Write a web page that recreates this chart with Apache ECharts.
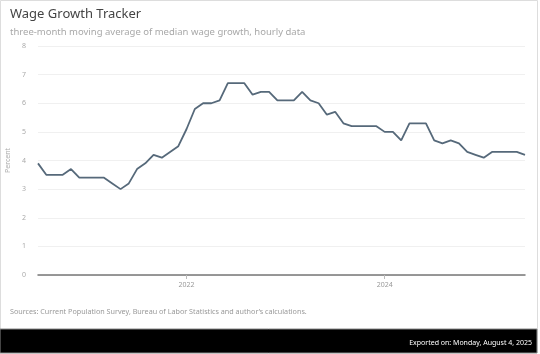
<!DOCTYPE html>
<html>
<head>
<meta charset="utf-8">
<script src="https://cdn.jsdelivr.net/npm/echarts@6/dist/echarts.min.js"></script>
<style>
  html, body { margin: 0; padding: 0; background: #fff; }
  #chart { width: 540px; height: 354px; }
</style>
</head>
<body>
<div id="chart"></div>
<script>
const months = [
  '2020-07', '2020-08', '2020-09', '2020-10', '2020-11', '2020-12',
  '2021-01', '2021-02', '2021-03', '2021-04', '2021-05', '2021-06',
  '2021-07', '2021-08', '2021-09', '2021-10', '2021-11', '2021-12',
  '2022-01', '2022-02', '2022-03', '2022-04', '2022-05', '2022-06',
  '2022-07', '2022-08', '2022-09', '2022-10', '2022-11', '2022-12',
  '2023-01', '2023-02', '2023-03', '2023-04', '2023-05', '2023-06',
  '2023-07', '2023-08', '2023-09', '2023-10', '2023-11', '2023-12',
  '2024-01', '2024-02', '2024-03', '2024-04', '2024-05', '2024-06',
  '2024-07', '2024-08', '2024-09', '2024-10', '2024-11', '2024-12',
  '2025-01', '2025-02', '2025-03', '2025-04', '2025-05', '2025-06'
]
const wageGrowth = [
  3.9, 3.5, 3.5, 3.5, 3.7, 3.4,
  3.4, 3.4, 3.4, 3.2, 3.0, 3.2,
  3.7, 3.9, 4.2, 4.1, 4.3, 4.5,
  5.1, 5.8, 6.0, 6.0, 6.1, 6.7,
  6.7, 6.7, 6.3, 6.4, 6.4, 6.1,
  6.1, 6.1, 6.4, 6.1, 6.0, 5.6,
  5.7, 5.3, 5.2, 5.2, 5.2, 5.2,
  5.0, 5.0, 4.7, 5.3, 5.3, 5.3,
  4.7, 4.6, 4.7, 4.6, 4.3, 4.2,
  4.1, 4.3, 4.3, 4.3, 4.3, 4.2
]
const yearTicks = ['2022-01', '2024-01']

const font = '"Noto Sans", "Open Sans", sans-serif'
const chart = echarts.init(document.getElementById('chart'))

const showYear = (idx, value) => yearTicks.indexOf(value) >= 0

const option = {
  backgroundColor: '#fff',
  animation: false,
  title: {
    text: 'Wage Growth Tracker',
    subtext: 'three-month moving average of median wage growth, hourly data',
    left: 5,
    top: 3,
    itemGap: 6,
    textStyle: {
      fontFamily: font,
      fontSize: 13,
      fontWeight: 'normal',
      color: '#444'
    },
    subtextStyle: {
      fontFamily: font,
      fontSize: 9.5,
      color: '#a8a8a8'
    }
  },
  grid: {
    left: 38,
    right: 15,
    top: 46,
    bottom: 79,
    outerBoundsMode: 'none'
  },
  xAxis: {
    type: 'category',
    boundaryGap: false,
    data: months,
    axisLine: {
      lineStyle: { color: '#777', width: 1.5 }
    },
    axisTick: {
      show: true,
      interval: showYear,
      length: 4,
      lineStyle: { color: '#bbb' }
    },
    axisLabel: {
      interval: showYear,
      formatter: (v) => v.slice(0, 4),
      fontFamily: font,
      fontSize: 7,
      color: '#999',
      margin: 6
    }
  },
  yAxis: {
    type: 'value',
    min: 0,
    max: 8,
    interval: 1,
    name: 'Percent',
    nameLocation: 'middle',
    nameGap: 22,
    nameTextStyle: {
      fontFamily: font,
      fontSize: 7,
      color: '#aaa'
    },
    axisLine: { show: false },
    axisTick: { show: false },
    axisLabel: {
      fontFamily: font,
      fontSize: 7,
      color: '#aaa',
      margin: 12
    },
    splitLine: {
      lineStyle: { color: '#f0f0f0', width: 1 }
    }
  },
  series: [{
    name: 'Wage growth',
    type: 'line',
    data: wageGrowth,
    symbol: 'none',
    lineStyle: { color: '#56697a', width: 1.8 },
    itemStyle: { color: '#56697a' }
  }],
  graphic: [
    {
      type: 'rect',
      shape: { x: 0.5, y: 0.5, width: 537, height: 352 },
      style: { fill: null, stroke: '#ddd', lineWidth: 1 },
      silent: true
    },
    {
      type: 'text',
      left: 10,
      top: 308,
      style: {
        text: 'Sources: Current Population Survey, Bureau of Labor Statistics and author\u2019s calculations.',
        fontFamily: font,
        fontSize: 7.2,
        fill: '#999'
      }
    },
    {
      type: 'rect',
      shape: { x: 0, y: 329, width: 537, height: 24 },
      style: { fill: '#000', stroke: '#888', lineWidth: 1 },
      silent: true
    },
    {
      type: 'text',
      right: 8,
      top: 339,
      style: {
        text: 'Exported on: Monday, August 4, 2025',
        fontFamily: font,
        fontSize: 7,
        fill: '#fff'
      }
    }
  ]
}

chart.setOption(option)
</script>
</body>
</html>
